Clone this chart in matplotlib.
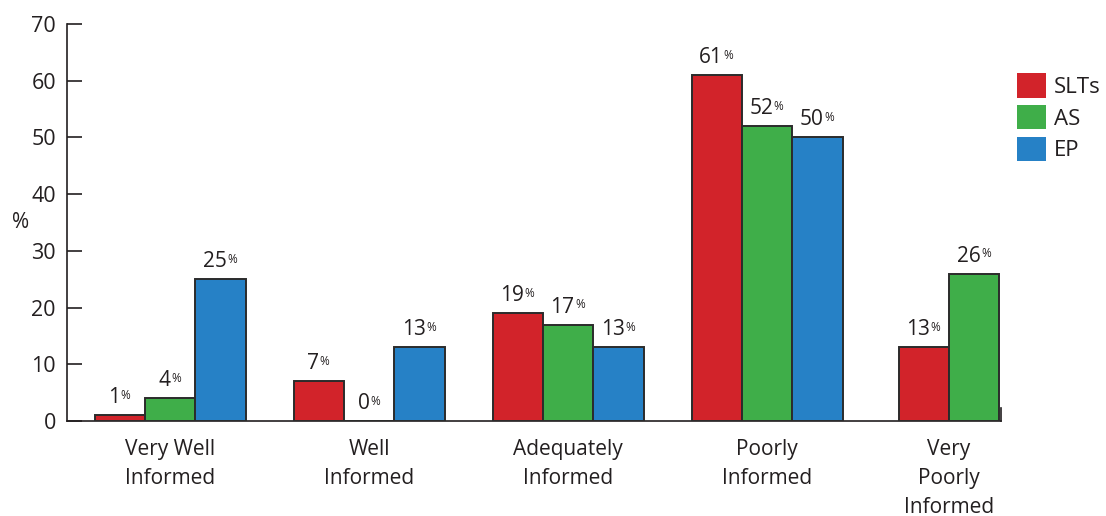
import matplotlib
matplotlib.use("Agg")
import matplotlib.pyplot as plt
from matplotlib.patches import Patch
import numpy as np

plt.rcParams['font.family'] = ['Open Sans', 'DejaVu Sans']

categories = ["Very Well\nInformed", "Well\nInformed", "Adequately\nInformed",
              "Poorly\nInformed", "Very\nPoorly\nInformed"]
series = ["SLTs", "AS", "EP"]
slts = [1, 7, 19, 61, 13]
as_ = [4, 0, 17, 52, 26]
ep = [25, 13, 13, 50, None]
colors = ["#D2232A", "#3FAE49", "#2681C6"]
yticks = [0, 10, 20, 30, 40, 50, 60, 70]

values = [slts, as_, ep]
group_x = np.array([0, 1, 2, 3, 3.915])
bar_w = 0.253

fig = plt.figure(figsize=(11.06, 5.16), dpi=100)
ax = fig.add_axes([0.0606, 0.184, 0.8445, 0.7695])

for gi, gx in enumerate(group_x):
    present = [si for si in range(len(series)) if values[si][gi] is not None]
    n = len(present)
    for k, si in enumerate(present):
        v = values[si][gi]
        x = gx + (k - (n - 1) / 2) * bar_w
        ax.bar(x, v, width=bar_w, color=colors[si], edgecolor="#2b2b2b",
               linewidth=1.4, zorder=3)
        num = ax.annotate(f"{v}", xy=(x, v), xytext=(-4, 5),
                          textcoords="offset points", ha="center", va="bottom",
                          fontsize=15, color="#231f20")
        ax.annotate("%", xy=(1.0, 0.92), xycoords=num, xytext=(0.3, 0),
                    textcoords="offset points", ha="left", va="top",
                    fontsize=8.5, color="#231f20")

ax.set_xlim(-0.518, 4.176)
ax.set_ylim(0, 70)
ax.set_yticks(yticks)
ax.set_xticks(group_x)
ax.set_xticklabels(categories, fontsize=15, linespacing=1.5, color="#231f20")
ax.tick_params(axis="x", length=0, pad=13)
ax.tick_params(axis="y", direction="in", length=11, width=1.2, pad=8,
               labelsize=15.5, labelcolor="#231f20", color="#231f20")
ax.spines["top"].set_visible(False)
ax.spines["right"].set_bounds(0, 2.3)
for s in ["left", "bottom", "right"]:
    ax.spines[s].set_linewidth(1.2)
    ax.spines[s].set_color("#231f20")

ax.set_ylabel("%", rotation=0, fontsize=15, color="#231f20", va="center")
ax.yaxis.set_label_coords(-0.05, 0.5)

handles = [Patch(facecolor=c, edgecolor="none") for c in colors]
fig.legend(handles, series, loc="upper left", bbox_to_anchor=(0.9115, 0.875),
           frameon=False, fontsize=16, handlelength=1.3, handleheight=1.3,
           labelspacing=0.32, handletextpad=0.35, borderaxespad=0,
           labelcolor="#231f20")

fig.savefig("out.png", dpi=100)
